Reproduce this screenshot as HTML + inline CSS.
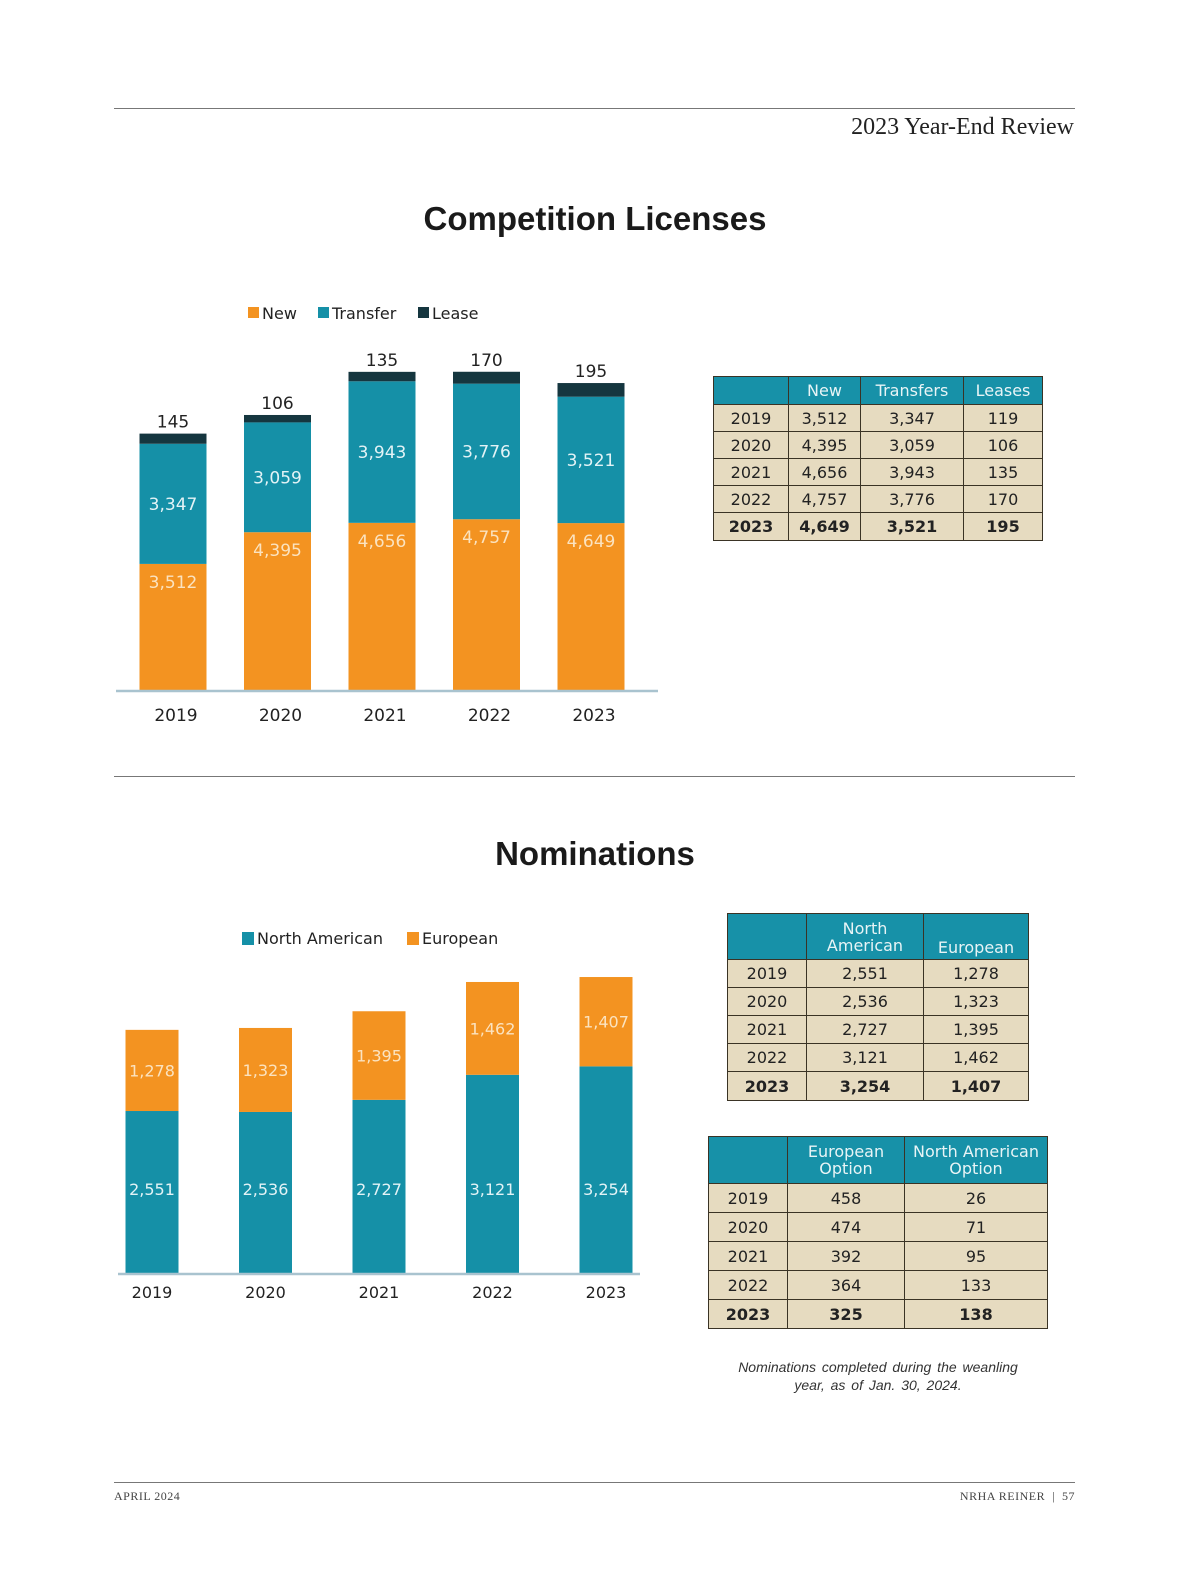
<!DOCTYPE html>
<html><head><meta charset="utf-8">
<style>
body{margin:0;background:#fff;font-family:"Liberation Sans",sans-serif;}
#page{position:relative;width:1200px;height:1582px;overflow:hidden;background:#fff;}
.rule{position:absolute;left:114px;width:961px;height:1px;background:#777;}
.abs{position:absolute;}
table{position:absolute;border-collapse:collapse;font-family:"DejaVu Sans","Liberation Sans",sans-serif;font-size:16px;color:#222;}
td,th{border:1.5px solid #3a3325;text-align:center;padding:0;background:#e6dbc0;}
th{background:#1791a8;color:#e8f4f6;font-weight:normal;line-height:17px;}
tr.b td{font-weight:bold;}
</style></head><body>
<div id="page">
<div class="rule" style="top:108px"></div>
<div class="abs" style="right:126px;top:114px;font-family:'Liberation Serif',serif;font-size:24px;color:#222">2023 Year-End Review</div>
<div class="abs" style="left:0;width:1190px;text-align:center;top:200px;font-size:33px;font-weight:bold;color:#1a1a1a">Competition Licenses</div>
<svg class="abs" style="left:0;top:0" width="700" height="760" id="c1"></svg>
<table style="left:713px;top:376px;width:330px">
<tr style="height:28px"><th style="width:74px"></th><th style="width:71px">New</th><th style="width:102px">Transfers</th><th>Leases</th></tr>
<tr style="height:27px"><td>2019</td><td>3,512</td><td>3,347</td><td>119</td></tr>
<tr style="height:27px"><td>2020</td><td>4,395</td><td>3,059</td><td>106</td></tr>
<tr style="height:27px"><td>2021</td><td>4,656</td><td>3,943</td><td>135</td></tr>
<tr style="height:27px"><td>2022</td><td>4,757</td><td>3,776</td><td>170</td></tr>
<tr class="b" style="height:28px"><td>2023</td><td>4,649</td><td>3,521</td><td>195</td></tr>
</table>
<div class="rule" style="top:776px"></div>
<div class="abs" style="left:0;width:1190px;text-align:center;top:835px;font-size:33px;font-weight:bold;color:#1a1a1a">Nominations</div>
<svg class="abs" style="left:0;top:900px" width="700" height="420" id="c2"></svg>
<table style="left:727px;top:913px;width:302px">
<tr style="height:46px"><th style="width:78px"></th><th style="width:116px">North<br>American</th><th style="vertical-align:bottom;padding-bottom:3px">European</th></tr>
<tr style="height:28px"><td>2019</td><td>2,551</td><td>1,278</td></tr>
<tr style="height:28px"><td>2020</td><td>2,536</td><td>1,323</td></tr>
<tr style="height:28px"><td>2021</td><td>2,727</td><td>1,395</td></tr>
<tr style="height:28px"><td>2022</td><td>3,121</td><td>1,462</td></tr>
<tr class="b" style="height:29px"><td>2023</td><td>3,254</td><td>1,407</td></tr>
</table>
<table style="left:708px;top:1136px;width:340px">
<tr style="height:47px"><th style="width:78px"></th><th style="width:116px">European<br>Option</th><th>North American<br>Option</th></tr>
<tr style="height:29px"><td>2019</td><td>458</td><td>26</td></tr>
<tr style="height:29px"><td>2020</td><td>474</td><td>71</td></tr>
<tr style="height:29px"><td>2021</td><td>392</td><td>95</td></tr>
<tr style="height:29px"><td>2022</td><td>364</td><td>133</td></tr>
<tr class="b" style="height:29px"><td>2023</td><td>325</td><td>138</td></tr>
</table>
<div class="abs" style="left:728px;width:300px;text-align:center;top:1358px;font-style:italic;font-size:14px;color:#333;line-height:18px;word-spacing:2px">Nominations completed during the weanling year, as of Jan. 30, 2024.</div>
<div class="rule" style="top:1482px"></div>
<div class="abs" style="left:114px;top:1489px;font-family:'Liberation Serif',serif;font-size:12px;color:#444;letter-spacing:0.5px">APRIL 2024</div>
<div class="abs" style="right:125px;top:1489px;font-family:'Liberation Serif',serif;font-size:12px;color:#444;letter-spacing:0.5px">NRHA REINER &nbsp;|&nbsp; 57</div>
</div>
<script>
const years=["2019","2020","2021","2022","2023"];
const newVals=[3512,4395,4656,4757,4649];
const transferVals=[3347,3059,3943,3776,3521];
const leaseVals=[145,106,135,170,195];
const naVals=[2551,2536,2727,3121,3254];
const euVals=[1278,1323,1395,1462,1407];
const NS="http://www.w3.org/2000/svg";
const ORANGE="#f39321",TEAL="#1590a7",DARK="#15363f";
function mk(svg,tag,attrs,text){const e=document.createElementNS(NS,tag);for(const k in attrs)e.setAttribute(k,attrs[k]);if(text!==undefined)e.textContent=text;svg.appendChild(e);return e;}
(function(){
const s=document.getElementById('c1');
const base=690,k=0.0359,lk=0.07,bw=67;
const xc=i=>173+i*104.5;
const y=v=>base-v*k;
[["New",ORANGE,248],["Transfer",TEAL,318],["Lease",DARK,418]].forEach(([t,c,x])=>{
 const r=mk(s,'rect',{x:x,y:307,width:11,height:11,fill:c});
 
 
 const tx=mk(s,'text',{x:x+14,y:319,'font-size':16,fill:'#222','font-family':'DejaVu Sans, sans-serif'},t);
 
 
});
years.forEach((yr,i)=>{
 const x=xc(i)-bw/2;
 const nTop=y(newVals[i]);
 const tTop=nTop-transferVals[i]*k;
 const lTop=tTop-leaseVals[i]*lk;
 let r=mk(s,'rect',{x:x,y:nTop,width:bw,height:base-nTop,fill:ORANGE});
 
 
 r=mk(s,'rect',{x:x,y:tTop,width:bw,height:nTop-tTop,fill:TEAL});
 
 
 r=mk(s,'rect',{x:x,y:lTop,width:bw,height:tTop-lTop,fill:DARK});
 
 
 const f={'font-size':17,'text-anchor':'middle','font-family':'DejaVu Sans, sans-serif'};
 let t=mk(s,'text',Object.assign({x:xc(i),y:nTop+24,fill:'#fbe3c0'},f),newVals[i].toLocaleString('en-US'));
 
 
 t=mk(s,'text',Object.assign({x:xc(i),y:(tTop+nTop)/2+6,fill:'#e3f3f6'},f),transferVals[i].toLocaleString('en-US'));
 
 
 t=mk(s,'text',Object.assign({x:xc(i),y:lTop-6,fill:'#222'},f),leaseVals[i]);
 
 
 t=mk(s,'text',Object.assign({x:xc(i)+3,y:721,fill:'#222'},f),yr);
 
 
});
const ax=mk(s,'line',{x1:116,x2:658,y1:base+1,y2:base+1,stroke:'#a9c3cf','stroke-width':2.5});


})();
(function(){
const s=document.getElementById('c2');
const base=373,k=0.0635,bw=53;
const xc=i=>152+i*113.5;
[["North  American",TEAL,242,"north-american"],["European",ORANGE,407,"european"]].forEach(([t,c,x,n])=>{
 const r=mk(s,'rect',{x:x,y:32,width:12,height:13,fill:c});
 
 
 const tx=mk(s,'text',{x:x+15,y:44,'font-size':16,fill:'#222','font-family':'DejaVu Sans, sans-serif','xml:space':'preserve'},t);
 
 
});
years.forEach((yr,i)=>{
 const x=xc(i)-bw/2;
 const nTop=base-naVals[i]*k;
 const eTop=nTop-euVals[i]*k;
 let r=mk(s,'rect',{x:x,y:nTop,width:bw,height:base-nTop,fill:TEAL});
 
 
 r=mk(s,'rect',{x:x,y:eTop,width:bw,height:nTop-eTop,fill:ORANGE});
 
 
 const f={'font-size':16,'text-anchor':'middle','font-family':'DejaVu Sans, sans-serif'};
 let t=mk(s,'text',Object.assign({x:xc(i),y:base-84+6,fill:'#e3f3f6'},f),naVals[i].toLocaleString('en-US'));
 
 
 t=mk(s,'text',Object.assign({x:xc(i),y:(eTop+nTop)/2+6,fill:'#fbe3c0'},f),euVals[i].toLocaleString('en-US'));
 
 
 t=mk(s,'text',Object.assign({x:xc(i),y:398,fill:'#222'},f),yr);
 
 
});
const ax=mk(s,'line',{x1:118,x2:640,y1:base+1,y2:base+1,stroke:'#a9c3cf','stroke-width':2.5});


})();
</script>
</body></html>
